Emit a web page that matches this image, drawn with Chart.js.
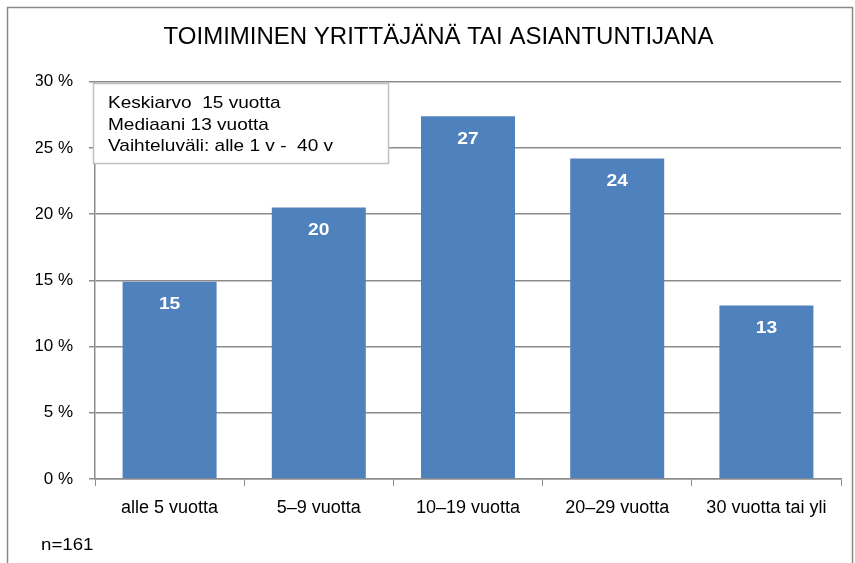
<!DOCTYPE html>
<html>
<head>
<meta charset="utf-8">
<script src="https://cdn.jsdelivr.net/npm/chart.js@4.4.0/dist/chart.umd.min.js"></script>
<style>
  html, body { margin: 0; padding: 0; background: #fff; }
  #wrap { width: 855px; height: 563px; position: relative; }
</style>
</head>
<body>
<div id="wrap"><canvas id="plot" width="855" height="563"></canvas></div>
<script>
// data
let categories = ['alle 5 vuotta', '5\u20139 vuotta', '10\u201319 vuotta', '20\u201329 vuotta', '30 vuotta tai yli'];
let shares = [14.9, 20.5, 27.4, 24.2, 13.1];
let shareLabels = ['15', '20', '27', '24', '13'];
let yTicks = [0, 5, 10, 15, 20, 25, 30];
let infoLines = ['Keskiarvo  15 vuotta', 'Mediaani 13 vuotta', 'Vaihteluv\u00e4li: alle 1 v -  40 v'];
let sampleNote = 'n=161';
let chartTitle = 'TOIMIMINEN YRITT\u00c4J\u00c4N\u00c4 TAI ASIANTUNTIJANA';

let fontName = '"Liberation Sans", Arial, sans-serif';
let gridGray = '#8c8c8c';

// text in the reference is a bit wider than plain Arial
let wideText = (ctx, text, x, y, sx) => {
    ctx.save();
    ctx.translate(x, y);
    ctx.scale(sx, 1);
    ctx.fillText(text, 0, 0);
    ctx.restore();
};

let extras = {
    id: 'extras',
    beforeDraw: (chart) => {
        let ctx = chart.ctx;
        ctx.save();
        ctx.fillStyle = '#fff';
        ctx.fillRect(0, 0, chart.width, chart.height);
        ctx.strokeStyle = '#8a8a8a';
        ctx.lineWidth = 1.5;
        ctx.strokeRect(7.5, 7.5, 845, 620);
        ctx.restore();
    },
    afterDatasetsDraw: (chart) => {
        let ctx = chart.ctx;
        let meta = chart.getDatasetMeta(0);
        ctx.save();
        ctx.fillStyle = '#fff';
        ctx.font = 'bold 17px ' + fontName;
        ctx.textAlign = 'center';
        ctx.textBaseline = 'middle';
        meta.data.forEach((bar, i) => {
            wideText(ctx, shareLabels[i], bar.x, bar.y + 23, 1.13);
        });
        ctx.restore();
    },
    afterDraw: (chart) => {
        let ctx = chart.ctx;
        ctx.save();
        // info box
        ctx.fillStyle = '#fff';
        ctx.fillRect(93, 83, 296, 81);
        ctx.strokeStyle = '#c0c0c0';
        ctx.lineWidth = 1.5;
        ctx.strokeRect(93.5, 83.5, 295, 80);
        ctx.fillStyle = '#000';
        ctx.font = '17px ' + fontName;
        ctx.textAlign = 'left';
        ctx.textBaseline = 'middle';
        infoLines.forEach((t, i) => {
            wideText(ctx, t, 108, 103.5 + i * 21.5, 1.12);
        });
        // sample size
        ctx.font = '17px ' + fontName;
        wideText(ctx, sampleNote, 41, 545, 1.1);
        ctx.restore();
    }
};

let config = {
    type: 'bar',
    data: {
        labels: categories,
        datasets: [
            {
                data: shares,
                backgroundColor: '#4f81bd',
                borderWidth: 0,
                barPercentage: 0.63,
                categoryPercentage: 1
            }
        ]
    },
    options: {
        responsive: false,
        animation: false,
        layout: { padding: { left: 36, right: 14, top: 0, bottom: 0 } },
        plugins: {
            legend: { display: false },
            tooltip: { enabled: false },
            title: {
                display: true,
                text: chartTitle,
                color: '#000',
                font: { family: fontName, size: 24, weight: 'normal', lineHeight: 1.2 },
                padding: { top: 23, bottom: 30 }
            }
        },
        scales: {
            x: {
                grid: { display: true, drawOnChartArea: false, offset: true, color: gridGray, tickLength: 7 },
                border: { color: gridGray, width: 1.5 },
                ticks: { color: '#000', font: { family: fontName, size: 18 }, padding: 11, maxRotation: 0 },
                afterFit: (scale) => { scale.height = 84; }
            },
            y: {
                min: 0,
                max: 30,
                afterBuildTicks: (scale) => { scale.ticks = yTicks.map(v => ({ value: v })); },
                grid: { color: gridGray, lineWidth: 1.5, tickLength: 6 },
                border: { color: gridGray, width: 1.5 },
                ticks: {
                    color: '#000',
                    font: { family: fontName, size: 17 },
                    padding: 16,
                    callback: (v) => v + ' %'
                },
                afterFit: (scale) => { scale.width = 59; }
            }
        }
    },
    plugins: [extras]
};

new Chart(document.getElementById('plot'), config);
</script>
</body>
</html>
